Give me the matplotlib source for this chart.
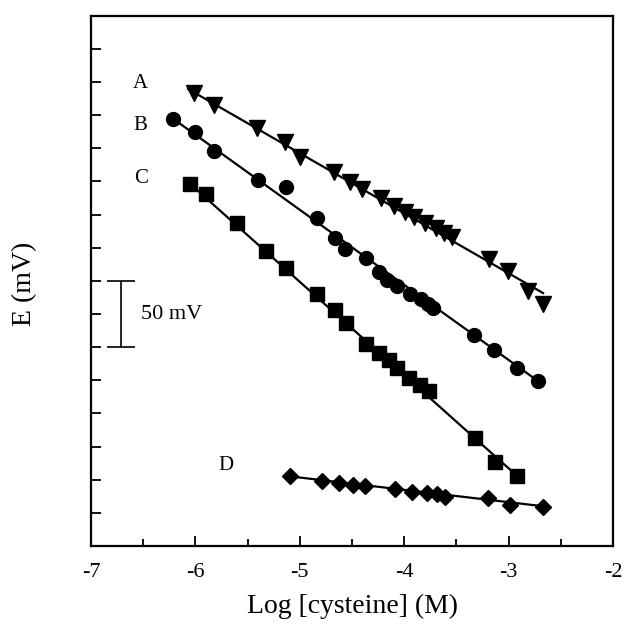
import numpy as np
import matplotlib.pyplot as plt
from matplotlib.ticker import MultipleLocator

# E (mV, arbitrary offset) vs log [cysteine] for four electrodes
a_x = [-6.01, -5.82, -5.41, -5.14, -5.00, -4.67, -4.52, -4.40, -4.22, -4.10,
       -3.99, -3.91, -3.80, -3.70, -3.62, -3.54, -3.19, -3.01, -2.81, -2.67]
a_y = [341.7, 332.6, 315.3, 304.7, 293.4, 282.1, 274.6, 269.3, 262.5, 256.5,
       251.9, 248.2, 243.6, 239.9, 236.1, 233.1, 216.5, 207.4, 192.3, 182.5]

b_x = [-6.21, -6.00, -5.82, -5.40, -5.13, -4.84, -4.66, -4.57, -4.37, -4.24,
       -4.16, -4.07, -3.94, -3.84, -3.77, -3.72, -3.33, -3.14, -2.92, -2.72]
b_y = [322.1, 312.3, 297.9, 276.1, 270.8, 247.4, 232.3, 224.0, 217.2, 206.7,
       200.6, 196.1, 190.1, 186.3, 182.5, 179.5, 159.2, 147.8, 134.3, 124.5]

c_x = [-6.05, -5.90, -5.60, -5.32, -5.13, -4.84, -4.66, -4.56, -4.37, -4.24,
       -4.15, -4.07, -3.95, -3.85, -3.76, -3.32, -3.13, -2.92]
c_y = [273.1, 265.3, 243.4, 222.5, 209.9, 189.9, 177.8, 168.0, 152.1, 145.8,
       140.3, 134.0, 127.0, 121.4, 117.1, 81.7, 63.1, 53.0]

d_x = [-5.09, -4.79, -4.62, -4.49, -4.38, -4.09, -3.93, -3.78, -3.69, -3.61,
       -3.20, -2.99, -2.67]
d_y = [53.0, 49.0, 47.3, 46.0, 45.5, 42.8, 41.0, 39.8, 39.0, 37.2,
       36.0, 31.2, 29.6]

# fitted lines (end points)
a_fit_x = [-6.07, -2.67]
a_fit_y = [344.7, 190.8]
b_fit_x = [-6.21, -2.72]
b_fit_y = [322.1, 124.5]
c_fit_x = [-6.05, -2.92]
c_fit_y = [273.1, 53.0]
d_fit_x = [-5.09, -2.67]
d_fit_y = [52.5, 30.0]

x_ticks = [-7, -6, -5, -4, -3, -2]
x_labels = ['-7', '-6', '-5', '-4', '-3', '-2']

plt.rcParams['font.family'] = ['Liberation Serif', 'DejaVu Serif']
plt.rcParams['axes.unicode_minus'] = False

fig = plt.figure(figsize=(6.25, 6.33), dpi=100)
ax = fig.add_axes([0.1456, 0.1374, 0.8352, 0.8378])

for fx, fy in [(a_fit_x, a_fit_y), (b_fit_x, b_fit_y),
               (c_fit_x, c_fit_y), (d_fit_x, d_fit_y)]:
    ax.plot(fx, fy, color='black', lw=1.6, zorder=2)

ax.plot(a_x, a_y, 'v', color='black', ms=11, zorder=3)
ax.plot(b_x, b_y, 'o', color='black', ms=10, zorder=3)
ax.plot(c_x, c_y, 's', color='black', ms=9.5, zorder=3)
ax.plot(d_x, d_y, 'D', color='black', ms=8.3, zorder=3)

# curve labels
ax.text(-6.53, 349, 'A', fontsize=15, ha='center', va='center')
ax.text(-6.53, 317, 'B', fontsize=15, ha='center', va='center')
ax.text(-6.52, 277, 'C', fontsize=15, ha='center', va='center')
ax.text(-5.71, 61, 'D', fontsize=15, ha='center', va='center')

# 50 mV scale bar
ax.errorbar([-6.71], [175], yerr=[[25], [25]], color='black', lw=1.2,
            capsize=10, capthick=1.2)
ax.text(-6.52, 175, '50 mV', fontsize=16, ha='left', va='center')

ax.set_xlim(-7, -2)
ax.set_ylim(0, 400)
ax.set_xticks(x_ticks)
ax.set_xticklabels(x_labels)
ax.xaxis.set_minor_locator(MultipleLocator(0.5))
ax.yaxis.set_major_locator(MultipleLocator(25))
ax.set_yticklabels([])

ax.tick_params(which='major', direction='in', length=7, width=1.3,
               labelsize=16, pad=12, top=False, right=False)
ax.tick_params(which='minor', direction='in', length=5, width=1.3)
for s in ax.spines.values():
    s.set_linewidth(1.6)

ax.set_xlabel('Log [cysteine] (M)', fontsize=20)
ax.set_ylabel('E (mV)', fontsize=20)
ax.xaxis.set_label_coords(0.5, -0.09)
ax.yaxis.set_label_coords(-0.103, 0.495)

fig.savefig('out.png', dpi=100)
